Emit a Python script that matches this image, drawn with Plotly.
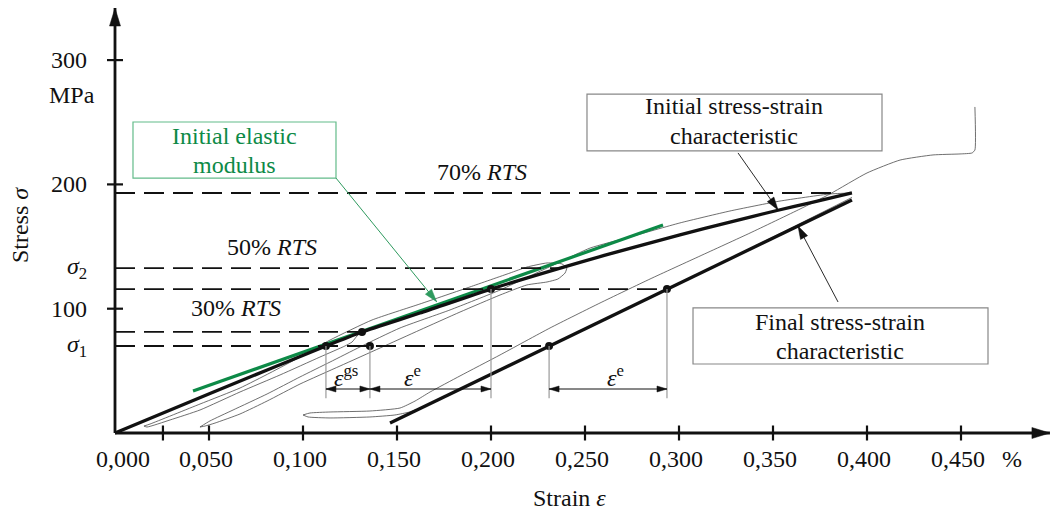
import math
import plotly.graph_objects as go

# ---------------- data (strain in %, stress in MPa) ----------------
initial_strain = [0.0, 0.0505, 0.1122, 0.1314, 0.1622, 0.2000, 0.2473, 0.2739, 0.3005, 0.3271, 0.3521, 0.3697, 0.3920]
initial_stress = [0.0, 31.8, 70.0, 81.3, 96.5, 115.8, 137.3, 148.6, 159.4, 169.7, 179.0, 185.2, 193.1]

final_strain = [0.1463, 0.3920]
final_stress = [8.0, 187.5]

modulus_strain = [0.0415, 0.2915]
modulus_stress = [33.8, 167.3]

# measured (thin) test curve, split into branches
unload1_strain = [0.1314, 0.1287, 0.1261, 0.1223, 0.1090, 0.0878, 0.0665, 0.0452, 0.0293, 0.0170, 0.0154]
unload1_stress = [81.3, 78.0, 73.2, 70.0, 61.1, 46.7, 33.0, 18.5, 10.5, 4.8, 5.6]

reload1_strain = [0.0154, 0.0186, 0.0452, 0.0665, 0.0824, 0.0984, 0.1144, 0.1367, 0.1622, 0.1888, 0.2101,
                  0.2191, 0.2298, 0.2378, 0.2404]
reload1_stress = [5.6, 7.2, 23.3, 36.2, 48.3, 61.1, 74.8, 90.9, 103.8, 117.5, 128.7,
                  133.5, 136.8, 136.0, 132.7]

unload2_strain = [0.2404, 0.2394, 0.2356, 0.2298, 0.2191, 0.2048, 0.1835, 0.1622, 0.1410, 0.1197, 0.0984,
                  0.0809, 0.0665, 0.0532, 0.0479, 0.0452]
unload2_stress = [132.7, 128.7, 123.9, 121.5, 119.1, 111.0, 97.3, 82.9, 68.4, 53.9, 39.4,
                  25.7, 15.3, 8.0, 5.6, 4.8]

reload2_strain = [0.0452, 0.0505, 0.0628, 0.0809, 0.0984, 0.1144, 0.1303, 0.1516, 0.1782, 0.2048, 0.2207,
                  0.2367, 0.2527, 0.2739, 0.3005, 0.3271, 0.3537, 0.3803, 0.3920]
reload2_stress = [4.8, 9.7, 18.5, 31.4, 45.1, 57.1, 69.2, 84.5, 99.0, 115.0, 126.3,
                  137.6, 148.8, 157.7, 169.0, 178.6, 186.6, 192.3, 193.1]

unload3_strain = [0.3920, 0.3112, 0.2314, 0.1782, 0.1649, 0.1569, 0.1489, 0.1356, 0.1144, 0.1027, 0.1000]
unload3_stress = [189.5, 128.3, 70.1, 31.3, 21.6, 17.0, 14.5, 12.9, 12.1, 12.9, 14.5]

reload3_strain = [0.1000, 0.1037, 0.1144, 0.1356, 0.1516, 0.1596, 0.1676, 0.1835, 0.2048, 0.2314, 0.2580, 0.2846,
                  0.3112, 0.3378, 0.3644, 0.3803, 0.4000, 0.4176, 0.4351, 0.4495, 0.4559, 0.4574, 0.4574]
reload3_stress = [14.5, 16.1, 16.9, 17.7, 20.1, 25.7, 33.0, 45.9, 62.8, 84.5, 104.6, 123.9,
                  142.4, 160.9, 180.2, 192.3, 209.2, 219.6, 223.7, 224.5, 225.3, 227.7, 262.3]

# stress levels (dashed) and where they end
level_stress = [193.1, 132.7, 115.8, 81.3, 70.0]
level_end_strain = [0.385, 0.238, 0.2936, 0.1314, 0.2309]

rts_labels = ["70% <i>RTS</i>", "50% <i>RTS</i>", "30% <i>RTS</i>"]
rts_strain = [0.1952, 0.0835, 0.0644]
rts_stress = [209.6, 150.0, 100.6]

point_strain = [0.1122, 0.1314, 0.1356, 0.2000, 0.2309, 0.2936]
point_stress = [70.0, 81.3, 70.0, 115.8, 70.0, 115.8]

drop_strain = [0.1122, 0.1356, 0.2000, 0.2309, 0.2936]
drop_top = [70.0, 70.0, 115.8, 70.0, 115.8]
drop_bottom = 28.0

dim_from = [0.1122, 0.1356, 0.2309]
dim_to = [0.1356, 0.2000, 0.2936]
dim_stress = 35.4
dim_labels = ["<i>ε</i><sup>gs</sup>", "<i>ε</i><sup>e</sup>", "<i>ε</i><sup>e</sup>"]
dim_label_strain = [0.1229, 0.1580, 0.2660]
dim_label_stress = 45.9

x_tick_vals = [0.00, 0.05, 0.10, 0.15, 0.20, 0.25, 0.30, 0.35, 0.40, 0.45]
x_tick_text = ["0,000", "0,050", "0,100", "0,150", "0,200", "0,250", "0,300", "0,350", "0,400", "0,450"]
x_minor_tick = [0.0255]
y_tick_vals = [100, 200, 300]
y_tick_text = ["100", "200", "300"]
sigma_vals = [70.0, 132.7]
sigma_text = ["<i>σ</i><sub>1</sub>", "<i>σ</i><sub>2</sub>"]

# pointer arrows: (tail strain, tail stress, head strain, head stress)
pointer_elastic = (0.11755, 205.1, 0.1711, 105.6)
pointer_initial = (0.3314, 225.3, 0.3527, 179.4)
pointer_final = (0.3846, 105.4, 0.3633, 166.5)

# ---------------- styling ----------------
FONT = "Liberation Serif"
GREEN = "#0d8a47"
GREEN_LIGHT = "#63bb8a"
BLACK = "#111111"
THIN = "#4a4a4a"

W, H = 1053, 519
X_RANGE = [-115 / 1880, 938 / 1880]
Y_RANGE = [-86 / 1.243, 433 / 1.243]
PX_X = W / (X_RANGE[1] - X_RANGE[0])
PX_Y = H / (Y_RANGE[1] - Y_RANGE[0])

fig = go.Figure()

thin_branches = [
    (unload1_strain, unload1_stress), (reload1_strain, reload1_stress),
    (unload2_strain, unload2_stress), (reload2_strain, reload2_stress),
    (unload3_strain, unload3_stress), (reload3_strain, reload3_stress),
]
for xs, ys in thin_branches:
    fig.add_trace(go.Scatter(x=xs, y=ys, mode="lines",
                             line=dict(color=THIN, width=0.8, shape="spline", smoothing=0.5),
                             hoverinfo="skip", showlegend=False))

fig.add_trace(go.Scatter(x=modulus_strain, y=modulus_stress, mode="lines",
                         line=dict(color=GREEN, width=3.2), showlegend=False))
fig.add_trace(go.Scatter(x=initial_strain, y=initial_stress, mode="lines",
                         line=dict(color=BLACK, width=3.3, shape="spline", smoothing=0.6),
                         showlegend=False))
fig.add_trace(go.Scatter(x=final_strain, y=final_stress, mode="lines",
                         line=dict(color=BLACK, width=3.3), showlegend=False))

shapes = []


def head_shape(tx, ty, hx, hy, length, width, color):
    dxp = (hx - tx) * PX_X
    dyp = (hy - ty) * PX_Y
    n = math.hypot(dxp, dyp)
    ux, uy = dxp / n, dyp / n
    bx, by = -length * ux, -length * uy
    px, py = -uy, ux
    p1 = (bx + width / 2 * px, by + width / 2 * py)
    p2 = (bx - width / 2 * px, by - width / 2 * py)
    path = "M 0 0 L {:.2f} {:.2f} L {:.2f} {:.2f} Z".format(p1[0], p1[1], p2[0], p2[1])
    return dict(type="path", xref="x", yref="y", xsizemode="pixel", ysizemode="pixel",
                xanchor=hx, yanchor=hy, path=path, fillcolor=color,
                line=dict(color=color, width=0.5))


def arrow(tx, ty, hx, hy, color, lw, length, width, both=False):
    shapes.append(dict(type="line", xref="x", yref="y", x0=tx, y0=ty, x1=hx, y1=hy,
                       line=dict(color=color, width=lw)))
    shapes.append(head_shape(tx, ty, hx, hy, length, width, color))
    if both:
        shapes.append(head_shape(hx, hy, tx, ty, length, width, color))


# dashed levels
for s, e in zip(level_stress, level_end_strain):
    shapes.append(dict(type="line", xref="x", yref="y", x0=0, x1=e, y0=s, y1=s,
                       line=dict(color=BLACK, width=1.8, dash="20px,9px")))
# vertical drops
for xv, top in zip(drop_strain, drop_top):
    shapes.append(dict(type="line", xref="x", yref="y", x0=xv, x1=xv, y0=drop_bottom, y1=top,
                       line=dict(color="#9a9a9a", width=1.2)))
# axes with arrowheads
arrow(0, 0, 0, 341.9, BLACK, 2.8, 18, 11)
arrow(0, 0, 0.4973, 0, BLACK, 2.8, 18, 11)
# tick marks crossing the axes
for xv in x_tick_vals[1:] + x_minor_tick:
    shapes.append(dict(type="line", xref="x", yref="y", ysizemode="pixel", yanchor=0,
                       x0=xv, x1=xv, y0=-7.5, y1=7.5, line=dict(color=BLACK, width=2.2)))
for yv in y_tick_vals:
    shapes.append(dict(type="line", xref="x", yref="y", xsizemode="pixel", xanchor=0,
                       x0=-8, x1=8, y0=yv, y1=yv, line=dict(color=BLACK, width=2.2)))
# text boxes
shapes.append(dict(type="rect", xref="x", yref="y", x0=0.00957, x1=0.11755, y0=205.1, y1=250.2,
                   line=dict(color=GREEN_LIGHT, width=1.2), fillcolor="white"))
shapes.append(dict(type="rect", xref="x", yref="y", x0=0.25106, x1=0.40798, y0=226.9, y1=272.7,
                   line=dict(color="#888888", width=1.2), fillcolor="white"))
shapes.append(dict(type="rect", xref="x", yref="y", x0=0.30745, x1=0.46436, y0=55.5, y1=100.6,
                   line=dict(color="#888888", width=1.2), fillcolor="white"))
# dimension arrows
for a, b in zip(dim_from, dim_to):
    arrow(a, dim_stress, b, dim_stress, BLACK, 1.0, 10, 6, both=True)
# pointer arrows
arrow(*pointer_elastic, "#2e9a5e", 1.0, 13, 8)
arrow(*pointer_initial, BLACK, 0.9, 13, 8)
arrow(*pointer_final, BLACK, 0.9, 13, 8)

fig.add_trace(go.Scatter(x=point_strain, y=point_stress, mode="markers",
                         marker=dict(color=BLACK, size=8), showlegend=False))

ann = []


def txt(x, y, t, color=BLACK, size=24, **kw):
    d = dict(x=x, y=y, xref="x", yref="y", text=t, showarrow=False,
             font=dict(family=FONT, size=size, color=color))
    d.update(kw)
    ann.append(d)


# tick labels
for v, t in zip(x_tick_vals, x_tick_text):
    txt(v, -21.3, t, xshift=(8 if v == 0 else -3))
txt(0.4771, -21.3, "%")
for v, t in zip(y_tick_vals, y_tick_text):
    txt(-0.0138, v, t, xanchor="right")
for v, t in zip(sigma_vals, sigma_text):
    txt(-0.0138, v, t, xanchor="right")
txt(-0.0229, 272.3, "MPa")
txt(0.2415, -52.3, "Strain <i>ε</i>")
txt(-0.0505, 167.3, "Stress <i>σ</i>", textangle=-90)

# RTS labels
for t, xv, yv in zip(rts_labels, rts_strain, rts_stress):
    txt(xv, yv, t)

# box texts
txt(0.0636, 238.9, "Initial elastic", color=GREEN)
txt(0.0636, 215.6, "modulus", color=GREEN)
txt(0.3293, 263.1, "Initial stress-strain")
txt(0.3293, 239.3, "characteristic")
txt(0.3859, 89.7, "Final stress-strain")
txt(0.3859, 66.0, "characteristic")

# dimension labels
for t, xv in zip(dim_labels, dim_label_strain):
    txt(xv, dim_label_stress, t)

fig.update_layout(
    width=W, height=H,
    margin=dict(l=0, r=0, t=0, b=0),
    paper_bgcolor="white", plot_bgcolor="white",
    xaxis=dict(range=X_RANGE, visible=False, fixedrange=True),
    yaxis=dict(range=Y_RANGE, visible=False, fixedrange=True),
    shapes=shapes, annotations=ann, showlegend=False,
)

fig.write_html("out.html", config={"displayModeBar": False},
               post_script="document.body.style.margin='0px';")
